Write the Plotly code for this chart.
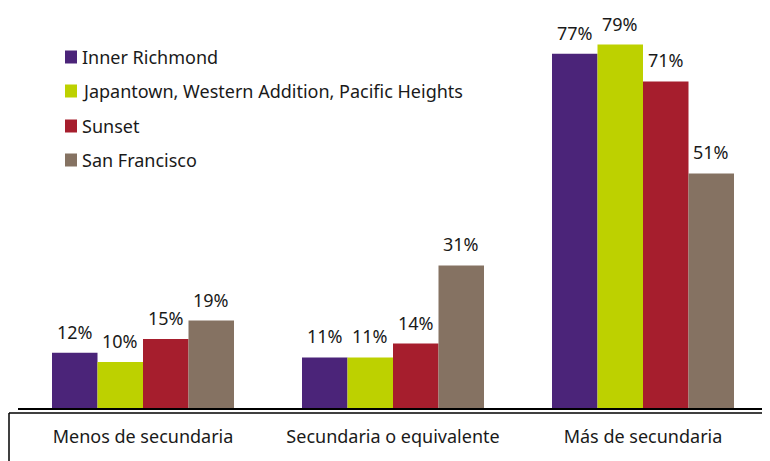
import plotly.graph_objects as go

categories = ["Menos de secundaria", "Secundaria o equivalente", "Más de secundaria"]
series_names = ["Inner Richmond", "Japantown, Western Addition, Pacific Heights", "Sunset", "San Francisco"]
inner_richmond = [12, 11, 77]
japantown = [10, 11, 79]
sunset = [15, 14, 71]
san_francisco = [19, 31, 51]
colors = ["#4B2479", "#BDD100", "#A61E2D", "#857262"]

values = [inner_richmond, japantown, sunset, san_francisco]

FONT = "Noto Sans"
TXT = "#1a1a1a"

# page body adds an 8px offset; figure sized so it fits the 770x461 window
OFF = 8
W, H = 762, 453
L, R, B, T = 10, 2, 53, 0
pw, ph = W - L - R, H - T - B

def px_x(p):
    return (p - OFF - L) / pw

def px_y(p):
    return (T + ph - (p - OFF)) / ph

fig = go.Figure()
annotations = []
bar_w_px = pw / len(categories) * (1 - 0.272) / len(series_names)
for i, (name, vals, col) in enumerate(zip(series_names, values, colors)):
    fig.add_trace(go.Bar(
        x=categories, y=vals, name=name,
        marker=dict(color=col, line=dict(width=0)),
        showlegend=False,
    ))
    for c, v in zip(categories, vals):
        annotations.append(dict(
            x=c, y=v, xref="x", yref="y", text=f"{v}%", showarrow=False,
            xanchor="center", yanchor="bottom",
            xshift=(i - 1.5) * bar_w_px, yshift=7,
            font=dict(size=18, family=FONT, color=TXT),
        ))

# legend drawn as squares + text
shapes = []
leg_rows = [57, 91, 126, 160]
for name, col, yc in zip(series_names, colors, leg_rows):
    shapes.append(dict(type="rect", xref="paper", yref="paper",
                       x0=px_x(65), x1=px_x(77), y0=px_y(yc + 6.5), y1=px_y(yc - 6.5),
                       fillcolor=col, line=dict(width=0)))
    annotations.append(dict(x=px_x(80), y=px_y(yc), xref="paper", yref="paper",
                            text=name, showarrow=False, xanchor="left", yanchor="middle",
                            font=dict(size=18, family=FONT, color=TXT)))

shapes += [
    dict(type="line", xref="paper", yref="paper", x0=px_x(9), x1=px_x(770),
         y0=px_y(413), y1=px_y(413), line=dict(color="black", width=1.5)),
    dict(type="line", xref="paper", yref="paper", x0=px_x(9), x1=px_x(9),
         y0=px_y(413), y1=px_y(461), line=dict(color="black", width=1.5)),
]

fig.update_layout(
    width=W, height=H,
    margin=dict(l=L, r=R, t=T, b=B, autoexpand=False),
    paper_bgcolor="white", plot_bgcolor="white",
    barmode="group", bargap=0.272, bargroupgap=0,
    font=dict(family=FONT, size=18, color=TXT),
    showlegend=False,
    xaxis=dict(showline=True, linecolor="black", linewidth=2, ticks="",
               tickfont=dict(size=18, family=FONT, color=TXT),
               ticklabelstandoff=11, showgrid=False, zeroline=False,
               range=[-0.5, 2.5], automargin=False),
    yaxis=dict(visible=False, range=[0, ph / 4.6], showgrid=False, zeroline=False,
               automargin=False),
    shapes=shapes,
    annotations=annotations,
)

fig.write_html("out.html")
